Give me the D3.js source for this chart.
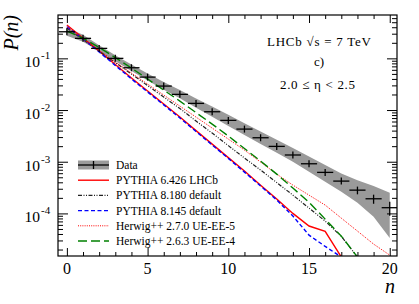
<!DOCTYPE html>
<html><head><meta charset="utf-8">
<script src="https://cdn.jsdelivr.net/npm/d3@7/dist/d3.min.js"></script>
<style>
html,body{margin:0;padding:0;background:#fff;}
svg{display:block;}
svg text{font-family:"Liberation Serif","Times New Roman",Times,serif;fill:#000;}
</style></head>
<body><svg id="chart" width="419" height="304"></svg>
<script>
// ── Data ─────────────────────────────────────────────
const nBins = d3.range(0, 21);
const dataP = [0.327, 0.244, 0.156, 0.100, 0.0658, 0.0434, 0.0291, 0.0201, 0.01345, 0.00927,
               0.00631, 0.00428, 0.00291, 0.00198, 0.00135, 9.13e-4, 6.22e-4, 4.22e-4, 2.82e-4, 1.92e-4, 1.29e-4];
const dataStat = [0.01, 0.01, 0.01, 0.01, 0.01, 0.02, 0.02, 0.02, 0.03, 0.03,
                  0.04, 0.05, 0.06, 0.07, 0.08, 0.10, 0.12, 0.14, 0.17, 0.20, 0.30];
const sysUp   = [0.20, 0.17, 0.15, 0.15, 0.16, 0.18, 0.20, 0.22, 0.24, 0.26,
                 0.28, 0.30, 0.32, 0.34, 0.37, 0.38, 0.39, 0.41, 0.56, 0.76, 0.94];
const sysDown = [0.16, 0.14, 0.12, 0.12, 0.13, 0.14, 0.15, 0.16, 0.18, 0.20,
                 0.22, 0.23, 0.24, 0.25, 0.26, 0.30, 0.34, 0.38, 0.43, 0.55, 0.74];

const pythia6426 = [0.441, 0.247, 0.138, 0.0759, 0.0416, 0.0233, 0.0131, 0.00731, 0.0040, 0.00219,
                    0.0012, 6.6e-4, 3.5e-4, 1.9e-4, 1.0e-4, 5.7e-5, 4.5e-5, 0, 0];
const pythia8180 = [0.386, 0.231, 0.138, 0.0829, 0.0497, 0.0298, 0.0178, 0.0107, 0.00612, 0.00358,
                    0.00205, 0.00118, 6.9e-4, 3.95e-4, 2.26e-4, 1.27e-4, 7.1e-5, 3.6e-5, 0];
const pythia8145 = [0.409, 0.238, 0.133, 0.0730, 0.0400, 0.0224, 0.0126, 0.00703, 0.00385, 0.00211,
                    0.00116, 6.3e-4, 3.4e-4, 1.82e-4, 8.9e-5, 3.8e-5, 2.3e-5, 0, 0];
const herwig270  = [0.4035, 0.236, 0.1416, 0.0848, 0.0519, 0.0318, 0.0195, 0.0119, 0.00731, 0.00448,
                    0.00274, 0.00168, 9.84e-4, 5.76e-4, 3.53e-4, 2.26e-4, 1.45e-4, 8.1e-5, 4.55e-5, 2.55e-5, 1.56e-5];
const herwig263  = [0.3376, 0.247, 0.1618, 0.1036, 0.0649, 0.0398, 0.0243, 0.0149, 0.00893, 0.00535,
                    0.00314, 0.0018, 0.00103, 5.76e-4, 3.09e-4, 1.65e-4, 7.76e-5, 3.64e-5, 0, 0];

const xTickMajor = [0, 5, 10, 15, 20];
const yTickExp = [-4, -3, -2, -1];

const series = [
  { name: 'PYTHIA 6.426 LHCb',      values: pythia6426, color: '#ff0000', dash: null,                width: 1.4 },
  { name: 'PYTHIA 8.180 default',   values: pythia8180, color: '#222222', dash: '4,1.5,1,1.5,1,1.5', width: 1.2 },
  { name: 'PYTHIA 8.145 default',   values: pythia8145, color: '#0000ff', dash: '4,2.5',             width: 1.4 },
  { name: 'Herwig++ 2.7.0 UE-EE-5', values: herwig270,  color: '#ff0000', dash: '1,1.2',             width: 1 },
  { name: 'Herwig++ 2.6.3 UE-EE-4', values: herwig263,  color: '#008000', dash: '9,4',               width: 1.4 },
];

// ── Layout ───────────────────────────────────────────
const L = 58, R = 397, T = 15, B = 256;
const svg = d3.select('#chart');
const x = d3.scaleLinear().domain([-0.55, 20.45]).range([L, R]);
const y = d3.scaleLog().domain([1.5e-5, 0.69]).range([B, T]);
const yv = v => v > 0 ? y(v) : B + 1;

svg.append('defs').append('clipPath').attr('id', 'clip')
  .append('rect').attr('x', L).attr('y', T).attr('width', R - L).attr('height', B - T);

const plot = svg.append('g').attr('clip-path', 'url(#clip)');

// systematic band
plot.append('path')
  .datum(nBins)
  .attr('fill', '#9a9a9a')
  .attr('d', d3.area()
    .x(n => x(n))
    .y0(n => y(dataP[n] * (1 - sysDown[n])))
    .y1(n => y(dataP[n] * (1 + sysUp[n]))));

// MC curves
series.forEach(s => {
  plot.append('path')
    .datum(s.values)
    .attr('fill', 'none')
    .attr('stroke', s.color)
    .attr('stroke-width', s.width)
    .attr('stroke-dasharray', s.dash)
    .attr('d', d3.line().x((d, i) => x(i)).y(d => yv(d)));
});

// data points
const pts = plot.append('g').attr('stroke', '#000').attr('stroke-width', 1.3);
nBins.forEach(n => {
  const v = dataP[n], cy = y(v);
  pts.append('line').attr('x1', x(n - 0.5)).attr('x2', x(n + 0.5)).attr('y1', cy).attr('y2', cy);
  const y1 = Math.min(y(v * (1 + dataStat[n])), cy - 3.5);
  const y2 = Math.max(y(v * (1 - dataStat[n])), cy + 3.5);
  pts.append('line').attr('x1', x(n)).attr('x2', x(n)).attr('y1', y1).attr('y2', y2);
});

// ── Axes ─────────────────────────────────────────────
const minorY = [];
for (let e = -5; e <= -1; e++) for (let k = 2; k < 10; k++) {
  const v = k * Math.pow(10, e);
  if (v >= 1.5e-5 && v <= 0.69) minorY.push(v);
}
const majorY = yTickExp.map(e => Math.pow(10, e));
const minorX = nBins.filter(n => n % 5 !== 0);

function styleAxis(g) {
  g.select('.domain').remove();
  g.selectAll('line').attr('stroke', '#000').attr('stroke-width', 1);
}
function ticks(axisFn, pos, vals, size) {
  svg.append('g').attr('transform', pos)
    .call(axisFn.tickValues(vals).tickSize(size).tickFormat(''))
    .call(styleAxis);
}
ticks(d3.axisLeft(y),   `translate(${L},0)`, majorY, -10);
ticks(d3.axisLeft(y),   `translate(${L},0)`, minorY, -5);
ticks(d3.axisRight(y),  `translate(${R},0)`, majorY, -10);
ticks(d3.axisRight(y),  `translate(${R},0)`, minorY, -5);
ticks(d3.axisBottom(x), `translate(0,${B})`, xTickMajor, -8);
ticks(d3.axisBottom(x), `translate(0,${B})`, minorX, -4);
ticks(d3.axisTop(x),    `translate(0,${T})`, xTickMajor, -8);
ticks(d3.axisTop(x),    `translate(0,${T})`, minorX, -4);

svg.append('rect').attr('x', L).attr('y', T).attr('width', R - L).attr('height', B - T)
  .attr('fill', 'none').attr('stroke', '#000').attr('stroke-width', 1.2);

// y tick labels 10^e
yTickExp.forEach(e => {
  const yy = y(Math.pow(10, e));
  svg.append('text').attr('x', 40).attr('y', yy + 9)
    .attr('text-anchor', 'end').attr('font-size', 15.5).text('10');
  svg.append('text').attr('x', 41).attr('y', yy + 1)
    .attr('font-size', 11).text('-' + Math.abs(e));
});

// x tick labels
xTickMajor.forEach(v => {
  svg.append('text').attr('x', x(v)).attr('y', 274)
    .attr('text-anchor', 'middle').attr('font-size', 16).text(v);
});

// axis titles
svg.append('text').attr('transform', 'translate(18,15) rotate(-90)')
  .attr('text-anchor', 'end').attr('font-size', 20).attr('font-style', 'italic').text('P(n)');
svg.append('text').attr('x', 395).attr('y', 293)
  .attr('text-anchor', 'end').attr('font-size', 20).attr('font-style', 'italic').text('n');

// labels top right
svg.append('text').attr('x', 267).attr('y', 46).attr('font-size', 13)
  .attr('textLength', 104).attr('lengthAdjust', 'spacing').text('LHCb \u221As = 7 TeV');
svg.append('text').attr('x', 319).attr('y', 66).attr('text-anchor', 'middle')
  .attr('font-size', 13).text('c)');
svg.append('text').attr('x', 280).attr('y', 88.5).attr('font-size', 13)
  .attr('textLength', 75).attr('lengthAdjust', 'spacing').text('2.0 \u2264 \u03b7 < 2.5');

// ── Legend ───────────────────────────────────────────
const lx0 = 78, lx1 = 109, ltx = 116, ly0 = 165, ldy = 15.2;
const leg = svg.append('g');
leg.append('rect').attr('x', lx0).attr('y', ly0 - 4.5).attr('width', lx1 - lx0).attr('height', 9)
  .attr('fill', '#9a9a9a');
leg.append('line').attr('x1', lx0).attr('x2', lx1).attr('y1', ly0).attr('y2', ly0)
  .attr('stroke', '#000').attr('stroke-width', 1.3);
leg.append('line').attr('x1', (lx0 + lx1) / 2).attr('x2', (lx0 + lx1) / 2).attr('y1', ly0 - 4).attr('y2', ly0 + 4)
  .attr('stroke', '#000').attr('stroke-width', 1.3);
leg.append('text').attr('x', ltx).attr('y', ly0 + 4).attr('font-size', 11.5).text('Data');
series.forEach((s, i) => {
  const yy = ly0 + ldy * (i + 1);
  leg.append('line').attr('x1', lx0).attr('x2', lx1).attr('y1', yy).attr('y2', yy)
    .attr('stroke', s.color).attr('stroke-width', s.width).attr('stroke-dasharray', s.dash);
  leg.append('text').attr('x', ltx).attr('y', yy + 4).attr('font-size', 11.5).text(s.name);
});
</script>
</body></html>
